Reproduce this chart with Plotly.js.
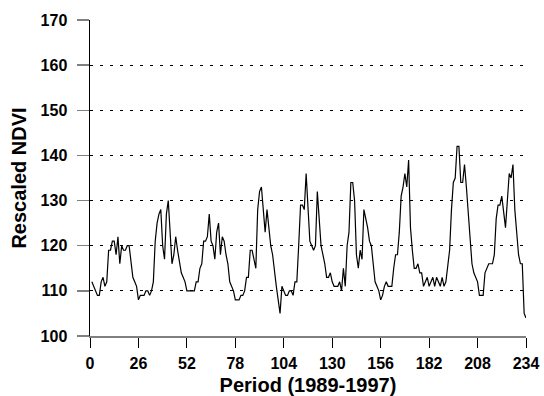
<!DOCTYPE html>
<html>
<head>
<meta charset="utf-8">
<script src="https://cdn.plot.ly/plotly-3.0.1.min.js"></script>
<style>html,body{margin:0;padding:0;background:#fff;}#chart{width:544px;height:396px;}</style>
</head>
<body>
<div id="chart"></div>
<script>
// Period index (1..234) and rescaled NDVI values
const ndvi = [
112,111,110,109,109,112,113,111,112,119,
119,121,121,118,122,116,120,119,119,120,
120,116,113,112,111,108,109,109,109,110,
110,109,110,112,121,125,127,128,120,117,
127,130,122,116,118,122,119,116,114,113,
112,110,110,110,110,110,112,112,115,116,
121,121,122,127,121,120,117,123,125,118,
122,121,118,116,112,111,110,108,108,108,
109,109,110,113,113,119,119,117,115,128,
132,133,128,123,128,124,120,118,114,111,
108,105,111,110,109,109,110,110,109,112,
112,120,129,129,128,136,128,121,120,119,
120,132,126,120,118,116,113,113,114,112,
111,111,111,112,110,115,111,120,123,134,
134,130,118,115,119,117,128,126,124,121,
120,116,112,111,110,108,109,111,112,111,
111,111,115,118,118,123,131,133,136,133,
139,124,119,115,115,116,114,114,111,112,
113,111,112,113,111,113,112,111,113,111,
112,115,119,128,134,135,142,142,134,134,
138,133,127,121,116,114,113,112,109,109,
109,114,115,116,116,116,118,126,129,129,
131,127,124,130,136,135,138,128,123,118,
116,116,105,104
];
const period = ndvi.map((v, i) => i + 1);
const xTicks = [0, 26, 52, 78, 104, 130, 156, 182, 208, 234];
const yTicks = [100, 110, 120, 130, 140, 150, 160, 170];
const xTitle = 'Period (1989-1997)';
const yTitle = 'Rescaled NDVI';

const font = 'Liberation Sans, Arial, sans-serif';
const trace = {
  x: period, y: ndvi, type: 'scatter', mode: 'lines',
  line: {color: '#000', width: 1.2}, hoverinfo: 'skip'
};
const layout = {
  width: 544, height: 396,
  margin: {l: 90, r: 18, t: 20, b: 60},
  paper_bgcolor: '#fff', plot_bgcolor: '#fff',
  showlegend: false,
  font: {family: font, color: '#000'},
  xaxis: {
    range: [0, 234], tickvals: xTicks, ticktext: xTicks.map(String),
    showline: true, linecolor: '#808080', linewidth: 1.5,
    ticks: 'outside', ticklen: 10, tickcolor: '#000', tickwidth: 1,
    showgrid: false, zeroline: false,
    tickfont: {family: font, size: 16, color: '#000', weight: 'bold'},
    ticklabelstandoff: 2,
    title: {text: xTitle, font: {family: font, size: 20, color: '#000', weight: 'bold'}, standoff: 9},
    automargin: false
  },
  yaxis: {
    range: [100, 170], tickvals: yTicks, ticktext: yTicks.map(String),
    showline: true, linecolor: '#000', linewidth: 1.5,
    ticks: 'outside', ticklen: 12, tickcolor: '#808080', tickwidth: 1.5,
    showgrid: true, gridcolor: '#000', gridwidth: 1.2, griddash: '3px,7px',
    zeroline: false,
    tickfont: {family: font, size: 16, color: '#000', weight: 'bold'},
    ticklabelstandoff: 6,
    title: {text: yTitle, font: {family: font, size: 20, color: '#000', weight: 'bold'}, standoff: 8},
    automargin: false
  }
};
Plotly.newPlot('chart', [trace], layout, {staticPlot: true, displayModeBar: false});
</script>
</body>
</html>
